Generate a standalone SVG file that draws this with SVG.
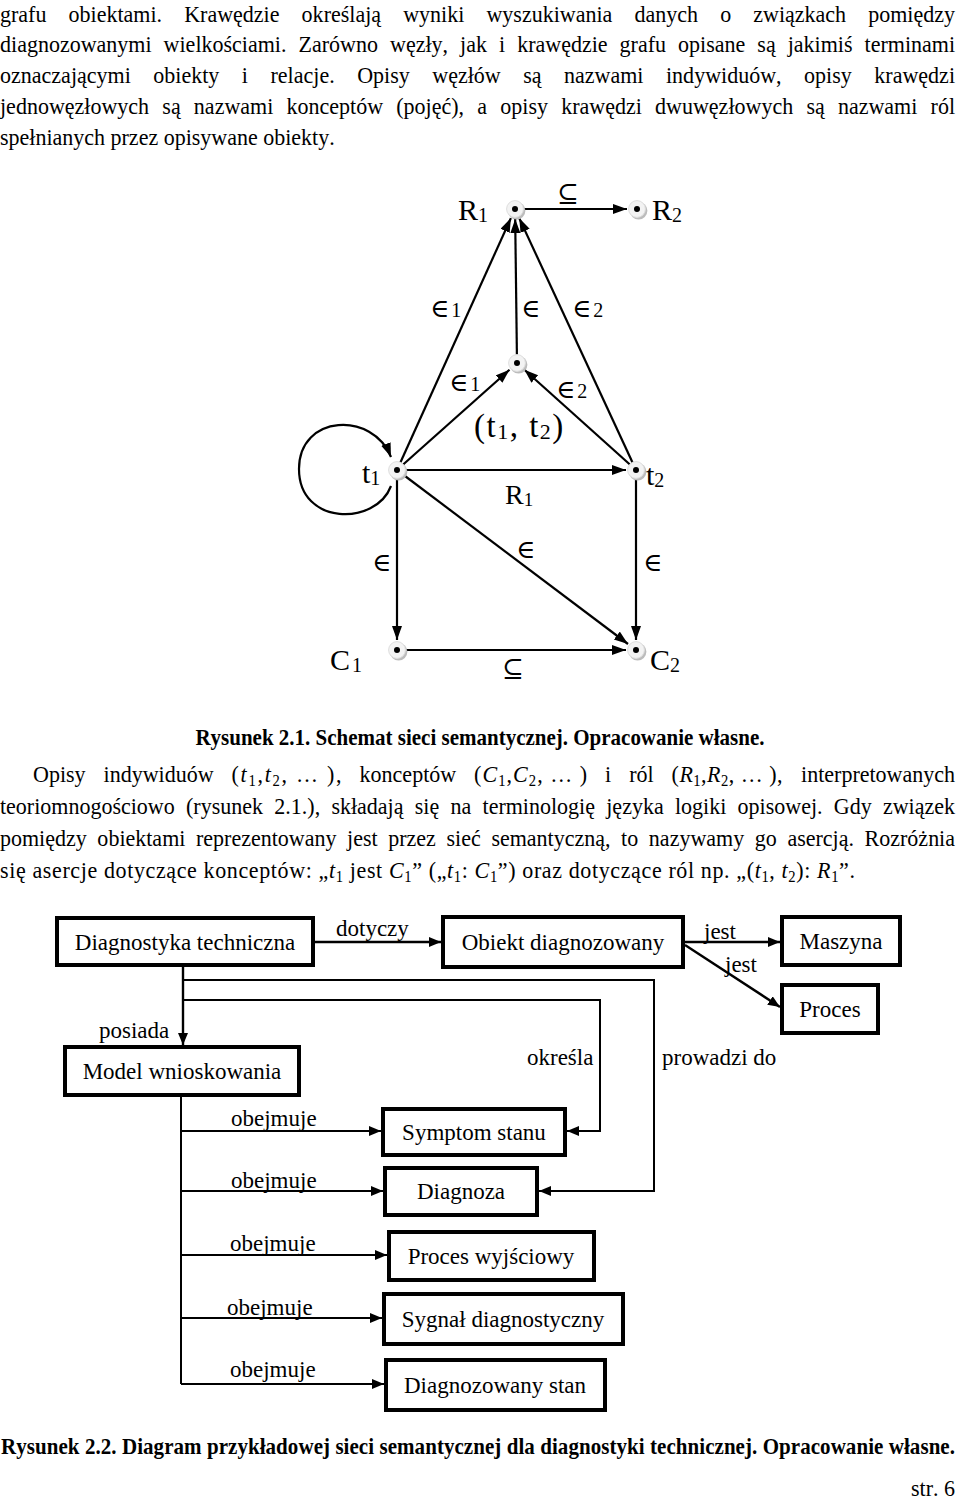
<svg xmlns="http://www.w3.org/2000/svg" width="960" height="1501" viewBox="0 0 960 1501">
<style>
text{font-family:"Liberation Serif","Times New Roman",serif;fill:#000;font-kerning:none}
.p{font-size:24px}
.cap{font-size:23px;font-weight:bold}
.i{font-style:italic}
.sb{font-size:16px}
.g{font-size:30px}
.gs{font-size:20px}
.sym{font-family:"DejaVu Serif","Liberation Serif",serif;font-size:26px}
.box{fill:#fff;stroke:#000;stroke-width:4}
.bt{font-size:23px;text-anchor:middle}
.lt{font-size:23px}
.c{stroke:#000;stroke-width:2.4;fill:none}
.c2{stroke:#000;stroke-width:2;fill:none}
.e{stroke:#000;stroke-width:2.2;fill:none}
</style>
<defs>
<marker id="ah" markerUnits="userSpaceOnUse" markerWidth="13" markerHeight="11" refX="12" refY="5" orient="auto">
<path d="M0,0 L12,5 L0,10 z" fill="#000"/>
</marker>
<marker id="ag" markerUnits="userSpaceOnUse" markerWidth="15" markerHeight="11" refX="14" refY="5" orient="auto">
<path d="M0,0 L14,5 L0,10 z" fill="#000"/>
</marker>
<g id="dot">
<circle cx="1.6" cy="1.8" r="8.8" fill="#bcbcbc"/>
<circle r="8.4" fill="#f3f3f3" stroke="#dedede" stroke-width="1"/>
<circle r="3" fill="#000"/>
</g>
</defs>
<rect width="960" height="1501" fill="#fff"/>

<g id="body-text-1" class="p" transform="scale(0.9167,1)">
<text x="0" y="22" word-spacing="18.1" textLength="1041.8" lengthAdjust="spacing">grafu obiektami. Krawędzie określają wyniki wyszukiwania danych o związkach pomiędzy</text>
<text x="0" y="52" word-spacing="7.1" textLength="1041.8" lengthAdjust="spacing">diagnozowanymi wielkościami. Zarówno węzły, jak i krawędzie grafu opisane są jakimiś terminami</text>
<text x="0" y="83" word-spacing="18.5" textLength="1041.8" lengthAdjust="spacing">oznaczającymi obiekty i relacje. Opisy węzłów są nazwami indywiduów, opisy krawędzi</text>
<text x="0" y="114" word-spacing="8.4" textLength="1041.8" lengthAdjust="spacing">jednowęzłowych są nazwami konceptów (pojęć), a opisy krawędzi dwuwęzłowych są nazwami ról</text>
<text x="0" y="145.5">spełnianych przez opisywane obiekty.</text>
</g>

<g id="connectors">
<path class="e" d="M515 209 H627" marker-end="url(#ag)"/>
<path class="e" d="M397 470 L510.9 218.1" marker-end="url(#ag)"/>
<path class="e" d="M517 363 L515.2 219" marker-end="url(#ag)"/>
<path class="e" d="M636 470 L519.2 218.1" marker-end="url(#ag)"/>
<path class="e" d="M397 470 L509.5 369.7" marker-end="url(#ag)"/>
<path class="e" d="M636 470 L524.4 369.7" marker-end="url(#ag)"/>
<path class="e" d="M397 470 H626" marker-end="url(#ag)"/>
<path class="e" d="M397 470 V640" marker-end="url(#ag)"/>
<path class="e" d="M397 470 L628 644" marker-end="url(#ag)"/>
<path class="e" d="M636 470 V640" marker-end="url(#ag)"/>
<path class="e" d="M397 650 H626" marker-end="url(#ag)"/>
<path class="e" d="M391 486 C376 526, 299 526, 299 469 C299 414, 373 411, 391 457" marker-end="url(#ag)"/>

<path class="c" d="M315 942 H441" marker-end="url(#ah)"/>
<path class="c" d="M685 942 H780" marker-end="url(#ah)"/>
<path class="c" d="M685 945 L780 1007" marker-end="url(#ah)"/>
<path class="c" d="M183 967 V1045" marker-end="url(#ah)"/>
<path class="c2" d="M183 980 H654 V1191 H539" marker-end="url(#ah)"/>
<path class="c2" d="M183 1000 H600 V1131 H567" marker-end="url(#ah)"/>
<path class="c2" d="M181 1095 V1384"/>
<path class="c2" d="M181 1131 H381" marker-end="url(#ah)"/>
<path class="c2" d="M181 1191 H383" marker-end="url(#ah)"/>
<path class="c2" d="M181 1255 H387" marker-end="url(#ah)"/>
<path class="c2" d="M181 1318 H382" marker-end="url(#ah)"/>
<path class="c2" d="M181 1384 H384" marker-end="url(#ah)"/>
</g>

<g id="edge-labels-top">
<text class="sym" x="568" y="202" text-anchor="middle">⊆</text>
<text x="430" y="317"><tspan class="sym">∈</tspan><tspan class="gs" dx="2">1</tspan></text>
<text class="sym" x="521" y="317">∈</text>
<text x="572" y="317"><tspan class="sym">∈</tspan><tspan class="gs" dx="2">2</tspan></text>
<text x="449" y="391"><tspan class="sym">∈</tspan><tspan class="gs" dx="2">1</tspan></text>
<text x="556" y="398"><tspan class="sym">∈</tspan><tspan class="gs" dx="2">2</tspan></text>
<text class="sym" x="372" y="571">∈</text>
<text class="sym" x="516" y="558">∈</text>
<text class="sym" x="643" y="571">∈</text>
<text class="sym" x="513" y="677" text-anchor="middle">⊆</text>
<text x="505" y="504" style="font-size:28px">R<tspan style="font-size:19px" dy="2">1</tspan></text>
</g>

<g id="node-R1"><use href="#dot" x="515" y="209"/><text class="g" x="458" y="220">R<tspan class="gs" dy="2">1</tspan></text></g>
<g id="node-R2"><use href="#dot" x="637" y="209"/><text class="g" x="652" y="220">R<tspan class="gs" dy="2">2</tspan></text></g>
<g id="node-t1t2"><use href="#dot" x="517" y="363"/><text x="474" y="437" style="font-size:33px;letter-spacing:1.5px">(t<tspan style="font-size:22px" dy="2">1</tspan><tspan dy="-2">, t</tspan><tspan style="font-size:22px" dy="2">2</tspan><tspan dy="-2">)</tspan></text></g>
<g id="node-t1"><use href="#dot" x="397" y="470"/><text class="g" x="362" y="483">t<tspan class="gs" dy="2">1</tspan></text></g>
<g id="node-t2"><use href="#dot" x="636" y="470"/><text class="g" x="646" y="485">t<tspan class="gs" dy="2">2</tspan></text></g>
<g id="node-C1"><use href="#dot" x="397" y="650"/><text class="g" x="330" y="670">C<tspan class="gs" dx="2" dy="2">1</tspan></text></g>
<g id="node-C2"><use href="#dot" x="636" y="650"/><text class="g" x="650" y="670">C<tspan class="gs" dy="2">2</tspan></text></g>

<g id="caption-1" transform="scale(0.913,1)"><text class="cap" x="525.7" y="745" text-anchor="middle">Rysunek 2.1. Schemat sieci semantycznej. Opracowanie własne.</text></g>

<g id="body-text-2" class="p" transform="scale(0.9167,1)">
<text x="36" y="782">Opisy</text>
<text x="113" y="782">indywiduów</text>
<text x="252.6" y="782" textLength="120" lengthAdjust="spacing">(<tspan class="i">t</tspan><tspan class="sb" dy="4">1</tspan><tspan dy="-4">,</tspan><tspan class="i">t</tspan><tspan class="sb" dy="4">2</tspan><tspan dy="-4">, … ),</tspan></text>
<text x="392.3" y="782">konceptów</text>
<text x="517.2" y="782" textLength="123.3" lengthAdjust="spacing">(<tspan class="i">C</tspan><tspan class="sb" dy="4">1</tspan><tspan dy="-4">,</tspan><tspan class="i">C</tspan><tspan class="sb" dy="4">2</tspan><tspan dy="-4">, … )</tspan></text>
<text x="660.1" y="782">i</text>
<text x="686.4" y="782">ról</text>
<text x="732.6" y="782" textLength="121.1" lengthAdjust="spacing">(<tspan class="i">R</tspan><tspan class="sb" dy="4">1</tspan><tspan dy="-4">,</tspan><tspan class="i">R</tspan><tspan class="sb" dy="4">2</tspan><tspan dy="-4">, … ),</tspan></text>
<text x="1041.8" y="782" text-anchor="end">interpretowanych</text>
<text x="0" y="814" word-spacing="6.3" textLength="1041.8" lengthAdjust="spacing">teoriomnogościowo (rysunek 2.1.), składają się na terminologię języka logiki opisowej. Gdy związek</text>
<text x="0" y="846" word-spacing="5.6" textLength="1041.8" lengthAdjust="spacing">pomiędzy obiektami reprezentowany jest przez sieć semantyczną, to nazywamy go asercją. Rozróżnia</text>
<text x="0" y="878" textLength="932.7" lengthAdjust="spacing">się asercje dotyczące konceptów: „<tspan class="i">t</tspan><tspan class="sb" dy="4">1</tspan><tspan dy="-4"> jest </tspan><tspan class="i">C</tspan><tspan class="sb" dy="4">1</tspan><tspan dy="-4">” („</tspan><tspan class="i">t</tspan><tspan class="sb" dy="4">1</tspan><tspan dy="-4">: </tspan><tspan class="i">C</tspan><tspan class="sb" dy="4">1</tspan><tspan dy="-4">”) oraz dotyczące ról np. „(</tspan><tspan class="i">t</tspan><tspan class="sb" dy="4">1</tspan><tspan dy="-4">, </tspan><tspan class="i">t</tspan><tspan class="sb" dy="4">2</tspan><tspan dy="-4">): </tspan><tspan class="i">R</tspan><tspan class="sb" dy="4">1</tspan><tspan dy="-4">”.</tspan></text>
</g>

<g id="conn-labels">
<text class="lt" x="336" y="936">dotyczy</text>
<text class="lt" x="704" y="939">jest</text>
<text class="lt" x="725" y="972">jest</text>
<text class="lt" x="99" y="1038">posiada</text>
<text class="lt" x="527" y="1065">określa</text>
<text class="lt" x="662" y="1065">prowadzi do</text>
<text class="lt" x="231" y="1126">obejmuje</text>
<text class="lt" x="231" y="1188">obejmuje</text>
<text class="lt" x="230" y="1251">obejmuje</text>
<text class="lt" x="227" y="1315">obejmuje</text>
<text class="lt" x="230" y="1377">obejmuje</text>
</g>

<g id="n-diagnostyka"><rect class="box" x="57" y="918" width="256" height="47"/><text class="bt" x="185" y="950">Diagnostyka techniczna</text></g>
<g id="n-obiekt"><rect class="box" x="443" y="917" width="240" height="50"/><text class="bt" x="563" y="950">Obiekt diagnozowany</text></g>
<g id="n-maszyna"><rect class="box" x="782" y="917" width="118" height="48"/><text class="bt" x="841" y="949">Maszyna</text></g>
<g id="n-proces"><rect class="box" x="782" y="985" width="96" height="48"/><text class="bt" x="830" y="1017">Proces</text></g>
<g id="n-model"><rect class="box" x="65" y="1047" width="234" height="48"/><text class="bt" x="182" y="1079">Model wnioskowania</text></g>
<g id="n-symptom"><rect class="box" x="383" y="1109" width="182" height="46"/><text class="bt" x="474" y="1140">Symptom stanu</text></g>
<g id="n-diagnoza"><rect class="box" x="385" y="1168" width="152" height="47"/><text class="bt" x="461" y="1199">Diagnoza</text></g>
<g id="n-proces-wyj"><rect class="box" x="389" y="1232" width="205" height="48"/><text class="bt" x="491" y="1264">Proces wyjściowy</text></g>
<g id="n-sygnal"><rect class="box" x="384" y="1294" width="239" height="50"/><text class="bt" x="503" y="1327">Sygnał diagnostyczny</text></g>
<g id="n-stan"><rect class="box" x="386" y="1360" width="219" height="50"/><text class="bt" x="495" y="1393">Diagnozowany stan</text></g>

<g id="caption-2" transform="scale(0.913,1)"><text class="cap" x="1.1" y="1454" textLength="1044.9" lengthAdjust="spacing">Rysunek 2.2. Diagram przykładowej sieci semantycznej dla diagnostyki technicznej. Opracowanie własne.</text></g>
<g id="footer" transform="scale(0.9167,1)"><text class="p" x="1041.8" y="1496" text-anchor="end">str. 6</text></g>
</svg>
